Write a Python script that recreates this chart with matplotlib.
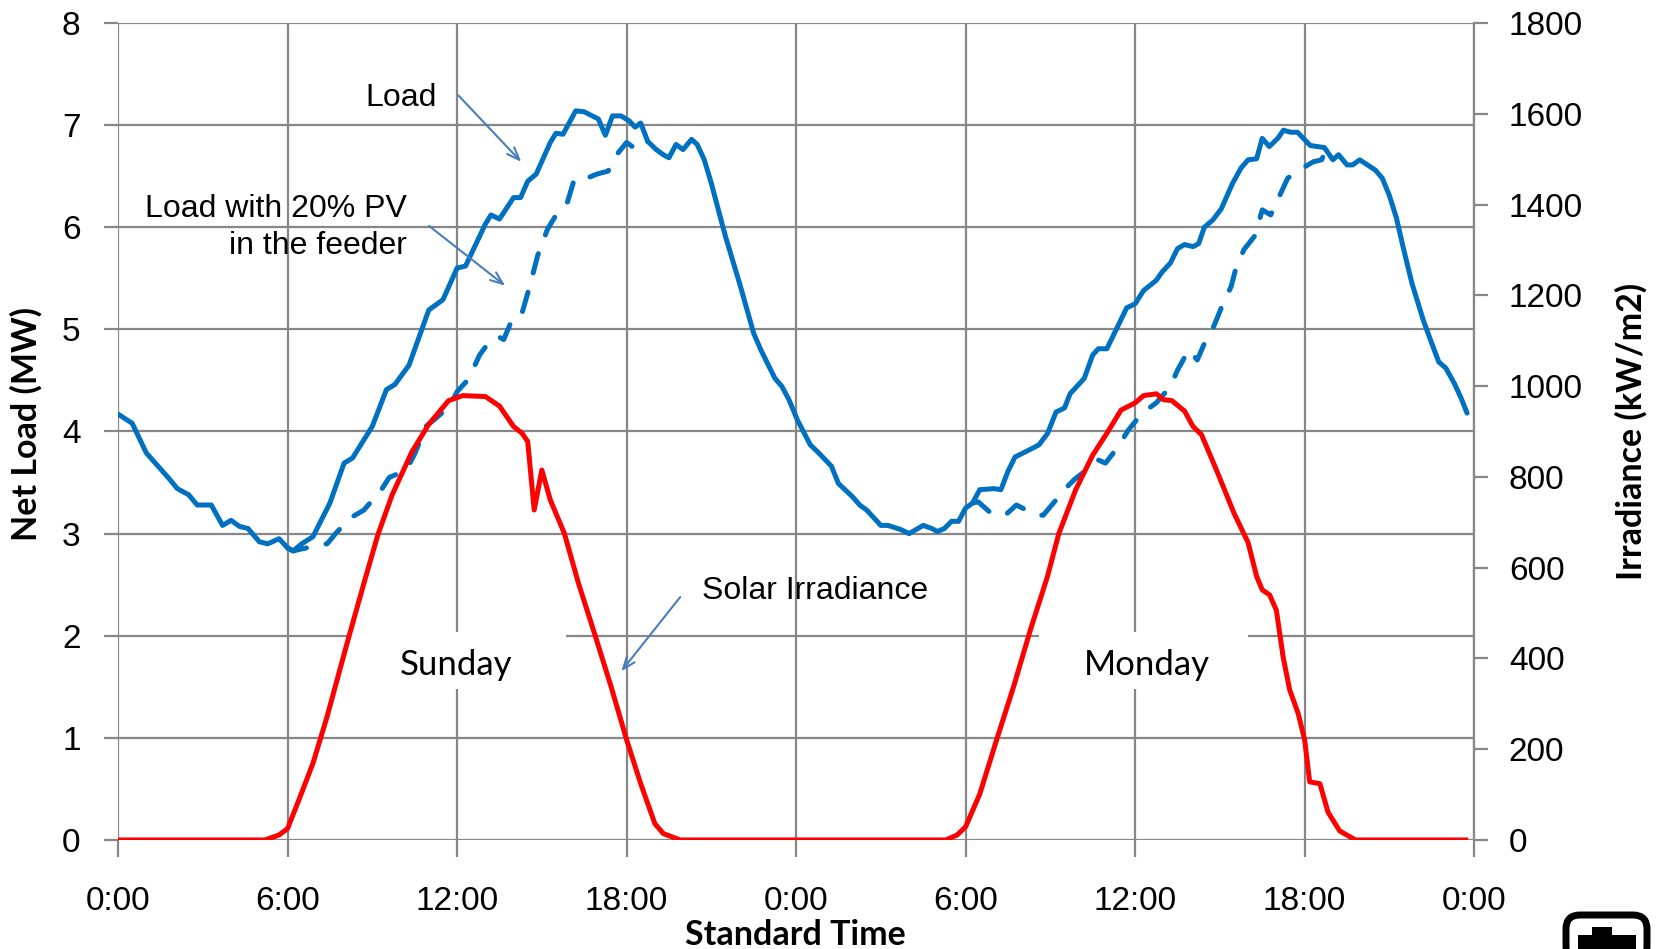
import matplotlib
matplotlib.use("Agg")
import matplotlib.pyplot as plt
from matplotlib.patches import Rectangle, FancyBboxPatch
from matplotlib.transforms import IdentityTransform

# time in hours from Sunday 0:00
load_hours = [0, 0.5, 1.0, 1.8, 2.1, 2.5, 2.8, 3.3, 3.7, 4.0,
              4.3, 4.6, 5.0, 5.3, 5.7, 6.0, 6.2, 6.5, 6.9, 7.5,
              8.0, 8.3, 9.0, 9.5, 9.8, 10.3, 11.0, 11.5, 12.0, 12.3,
              13.0, 13.2, 13.5, 14.0, 14.25, 14.5, 14.8, 15.3, 15.5, 15.75,
              16.2, 16.5, 17.0, 17.25, 17.5, 17.8, 18.1, 18.3, 18.5, 18.75,
              19.05, 19.3, 19.5, 19.75, 20.0, 20.3, 20.5, 20.75, 21.0, 21.2,
              21.5, 22.0, 22.5, 22.75, 23.25, 23.5, 23.75, 24.05, 24.5, 24.8,
              25.25, 25.5, 26.0, 26.25, 26.5, 27.0, 27.25, 27.7, 28.0, 28.5,
              28.8, 29.0, 29.25, 29.5, 29.75, 30.0, 30.25, 30.5, 31.0, 31.25,
              31.5, 31.75, 32.4, 32.6, 32.9, 33.2, 33.5, 33.7, 34.2, 34.5,
              34.7, 35.0, 35.3, 35.7, 36.0, 36.3, 36.75, 36.95, 37.25, 37.5,
              37.75, 38.05, 38.25, 38.45, 38.75, 39.05, 39.45, 39.75, 40.0, 40.3,
              40.5, 40.75, 41.05, 41.25, 41.5, 41.75, 42.2, 42.7, 43.0, 43.2,
              43.5, 43.7, 43.95, 44.5, 44.75, 45.0, 45.25, 45.5, 45.8, 46.2,
              46.45, 46.75, 47.0, 47.3, 47.55, 47.75]
load_mw = [4.17, 4.08, 3.79, 3.54, 3.44, 3.38, 3.28, 3.28, 3.08, 3.13,
           3.07, 3.05, 2.92, 2.9, 2.95, 2.86, 2.83, 2.9, 2.97, 3.3,
           3.69, 3.74, 4.05, 4.41, 4.46, 4.65, 5.19, 5.29, 5.6, 5.62,
           6.03, 6.12, 6.08, 6.29, 6.29, 6.45, 6.52, 6.83, 6.92, 6.91,
           7.14, 7.13, 7.06, 6.9, 7.09, 7.09, 7.04, 6.98, 7.02, 6.84,
           6.76, 6.71, 6.68, 6.81, 6.76, 6.86, 6.81, 6.66, 6.43, 6.22,
           5.91, 5.45, 4.96, 4.8, 4.52, 4.44, 4.31, 4.11, 3.87, 3.79,
           3.66, 3.49, 3.36, 3.28, 3.23, 3.08, 3.08, 3.04, 3.0, 3.08,
           3.05, 3.02, 3.05, 3.12, 3.12, 3.25, 3.3, 3.43, 3.44, 3.43,
           3.61, 3.75, 3.84, 3.87, 3.98, 4.19, 4.23, 4.37, 4.52, 4.75,
           4.81, 4.81, 4.98, 5.21, 5.25, 5.38, 5.48, 5.56, 5.65, 5.79,
           5.83, 5.81, 5.84, 6.0, 6.07, 6.18, 6.43, 6.58, 6.66, 6.67,
           6.87, 6.79, 6.87, 6.95, 6.93, 6.93, 6.8, 6.78, 6.66, 6.71,
           6.61, 6.61, 6.66, 6.56, 6.48, 6.31, 6.09, 5.79, 5.45, 5.09,
           4.9, 4.68, 4.62, 4.47, 4.32, 4.18]

# load with 20% PV (only where it differs from the load)
pv_sun_hours = [6.0, 6.2, 6.5, 7.2, 7.4, 7.7, 8.2, 8.7, 9.3, 9.6,
                10.2, 10.5, 10.9, 11.25, 11.75, 12.0, 12.4, 12.8, 13.2, 13.45,
                13.65, 14.0, 14.3, 14.6, 14.85, 15.2, 15.55, 15.9, 16.15, 16.5,
                16.95, 17.35, 17.65, 18.0, 18.25, 18.5, 18.75]
pv_sun_mw = [2.86, 2.83, 2.85, 2.89, 2.9, 3.0, 3.15, 3.23, 3.42, 3.55,
             3.62, 3.78, 4.05, 4.13, 4.25, 4.39, 4.51, 4.75, 4.9, 4.93,
             4.9, 5.13, 5.16, 5.45, 5.72, 5.98, 6.14, 6.24, 6.47, 6.47,
             6.52, 6.55, 6.71, 6.83, 6.78, 6.86, 6.84]
pv_mon_hours = [30.25, 30.45, 30.9, 31.4, 31.8, 32.5, 32.75, 33.05, 33.6, 33.85,
                34.45, 34.7, 34.95, 35.4, 35.75, 36.25, 36.75, 37.25, 37.5, 37.9,
                38.2, 38.45, 38.8, 39.05, 39.4, 39.55, 39.85, 40.25, 40.5, 40.8,
                41.15, 41.4, 42.0, 42.3, 42.6, 42.8]
pv_mon_mw = [3.3, 3.31, 3.2, 3.18, 3.28, 3.18, 3.18, 3.28, 3.46, 3.53,
             3.66, 3.72, 3.69, 3.85, 4.01, 4.18, 4.28, 4.44, 4.6, 4.8,
             4.7, 4.86, 5.04, 5.21, 5.42, 5.58, 5.78, 5.92, 6.17, 6.12,
             6.33, 6.48, 6.59, 6.64, 6.66, 6.78]

irr_hours = [0, 5.2, 5.7, 6.0, 6.4, 6.9, 7.4, 8.1, 8.7, 9.2,
             9.7, 10.4, 11.0, 11.7, 12.2, 13.0, 13.5, 14.0, 14.3, 14.5,
             14.73, 15.0, 15.3, 15.8, 16.3, 16.9, 17.45, 18.0, 18.5, 19.0,
             19.3, 19.9, 29.3, 29.7, 30.0, 30.5, 31.1, 31.7, 32.3, 32.9,
             33.3, 33.9, 34.5, 35.0, 35.5, 36.0, 36.3, 36.75, 37.0, 37.3,
             37.75, 38.05, 38.35, 38.9, 39.5, 40.0, 40.3, 40.5, 40.76, 41.0,
             41.24, 41.47, 41.77, 42.0, 42.18, 42.54, 42.83, 43.24, 43.8, 47.7]
irr_kw = [0, 0, 11, 25, 88, 169, 272, 432, 565, 673,
          760, 855, 916, 968, 979, 977, 956, 911, 896, 878,
          727, 815, 749, 675, 565, 448, 338, 221, 124, 36,
          14, 0, 0, 11, 29, 101, 221, 338, 464, 581,
          675, 772, 848, 896, 947, 963, 979, 983, 970, 968,
          945, 911, 893, 812, 720, 655, 581, 551, 540, 506,
          403, 331, 279, 221, 128, 124, 61, 20, 0, 0]

x_ticks = [0, 6, 12, 18, 24, 30, 36, 42, 48]
x_labels = ["0:00", "6:00", "12:00", "18:00", "0:00", "6:00", "12:00", "18:00", "0:00"]

blue = "#0070C0"
red = "#FF0000"
grid = "#878787"
arrow_c = "#4A7EBB"
tick_font = "Liberation Sans"

fig = plt.figure(figsize=(16.58, 9.49), dpi=100)
ax = fig.add_axes([0.0712, 0.1149, 0.8179, 0.8609])
ax.set_axisbelow(True)

ax.plot(pv_sun_hours, pv_sun_mw, color=blue, lw=3.6, dashes=(4, 4),
        dash_capstyle="round", zorder=2)
ax.plot(pv_mon_hours, pv_mon_mw, color=blue, lw=3.6, dashes=(4, 4),
        dash_capstyle="round", zorder=2)
ax.plot(load_hours, load_mw, color=blue, lw=3.6, solid_joinstyle="round",
        solid_capstyle="round", zorder=2.5)

ax.set_xlim(0, 48)
ax.set_ylim(0, 8)
ax.set_xticks(x_ticks)
ax.set_xticklabels(x_labels)
ax.set_yticks(range(0, 9))
ax.grid(True, color=grid, lw=1.6)
for s in ax.spines.values():
    s.set_visible(False)
ax.tick_params(axis="both", colors=grid, width=1.6, labelcolor="black",
               labelsize=24)
ax.tick_params(axis="x", length=12, pad=21)
ax.tick_params(axis="y", length=10, pad=17)
for lab in ax.get_xticklabels() + ax.get_yticklabels():
    lab.set_fontfamily(tick_font)

# white boxes behind the day names
ax.add_patch(Rectangle((8.16, 1.48), 7.68, 0.56, fc="white", ec="none", zorder=1))
ax.add_patch(Rectangle((32.6, 1.48), 7.4, 0.56, fc="white", ec="none", zorder=1))

ax2 = ax.twinx()
ax2.plot(irr_hours, irr_kw, color=red, lw=3.6, solid_joinstyle="round")
ax2.set_ylim(0, 1800)
ax2.set_yticks(range(0, 1801, 200))
for name, s in ax2.spines.items():
    s.set_visible(name == "right")
ax2.spines["right"].set_color(grid)
ax2.spines["right"].set_linewidth(1.6)
ax2.tick_params(axis="y", colors=grid, width=1.6, length=10, pad=15,
                labelcolor="black", labelsize=24)
for lab in ax2.get_yticklabels():
    lab.set_fontfamily(tick_font)

# annotations
txt = dict(fontsize=23, fontfamily=tick_font, color="black")
arr = dict(arrowstyle="->,head_length=0.9,head_width=0.35", color=arrow_c, lw=1.5)
ax.text(10.03, 7.27, "Load", ha="center", va="center", **txt)
ax.annotate("", xy=(14.34, 6.62), xytext=(11.98, 7.31), arrowprops=arr)
ax.text(10.22, 6.0, "Load with 20% PV\nin the feeder", ha="right", va="center",
        linespacing=1.32, **txt)
ax.annotate("", xy=(13.78, 5.41), xytext=(10.93, 6.03), arrowprops=arr)
ax.text(24.67, 2.44, "Solar Irradiance", ha="center", va="center", **txt)
ax.annotate("", xy=(17.75, 1.63), xytext=(19.96, 2.4), arrowprops=arr)

day = dict(fontsize=25, fontfamily="Lato", color="black", ha="center", va="center",
           zorder=3)
ax.text(11.98, 1.71, "Sunday", **day)
ax.text(36.43, 1.71, "Monday", **day)

fig.text(0.016, 0.553, "Net Load (MW)", rotation=90, ha="center", va="center",
         fontsize=24.5, fontweight="bold", fontfamily="Lato")
fig.text(0.48, -0.002, "Standard Time", ha="center", va="bottom",
         fontsize=24.5, fontweight="bold", fontfamily="Lato")
fig.text(0.984, 0.545, "Irradiance (kW/m2)", rotation=90, ha="center", va="center",
         fontsize=24.5, fontweight="bold", fontfamily="Lato")

# partly visible logo in the bottom right corner (pixel coordinates)
px = IdentityTransform()
fig.add_artist(FancyBboxPatch((1566, -11), 81, 45, boxstyle="round,pad=0,rounding_size=14",
                              fc="none", ec="black", lw=5, transform=px))
fig.add_artist(Rectangle((1592, 14), 20, 8, fc="black", ec="none", transform=px))
fig.add_artist(Rectangle((1578, 0), 58, 14, fc="black", ec="none", transform=px))

fig.savefig("out.png", dpi=100)
